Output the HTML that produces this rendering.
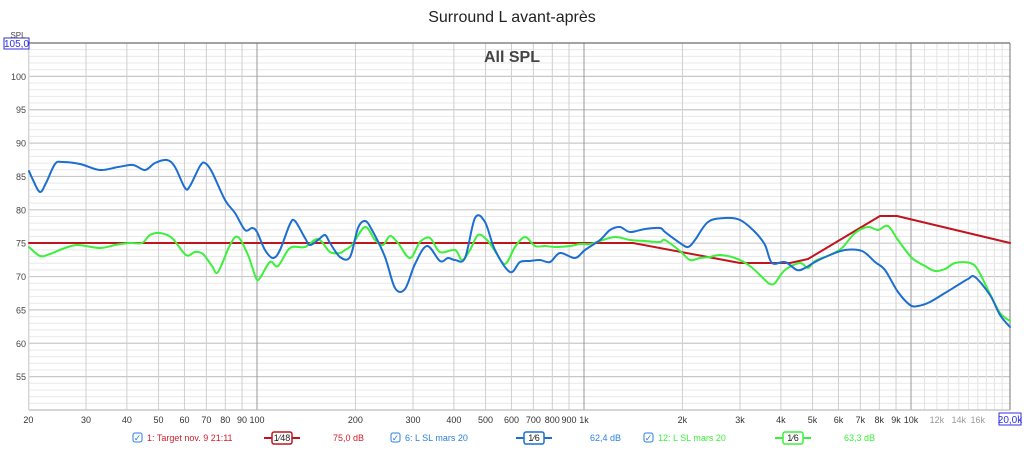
<!DOCTYPE html>
<html><head><meta charset="utf-8"><style>
body{margin:0;background:#fff;font-family:"Liberation Sans",sans-serif}
</style></head><body>
<svg width="1024" height="447" xmlns="http://www.w3.org/2000/svg" font-family="Liberation Sans, sans-serif">
<rect width="1024" height="447" fill="#fff"/>
<text x="512" y="22" font-size="16" text-anchor="middle" fill="#222">Surround L avant-après</text>
<g id="grid"></g>
<text x="512" y="62" font-size="16" font-weight="bold" text-anchor="middle" fill="#444">All SPL</text>
<g fill="none" stroke-width="2" stroke-linejoin="round" stroke-linecap="round">
<polyline stroke="#c0151f" points="29,243 633,243 740,263 790,263 808,259 880,216 897,216 1010,243"/>
<path class="sm" stroke="#3cf03c" data-p="29,247 40,256 50,254 65,248 78,245 100,248 115,245 130,243 142,243 150,235 160,233 172,238 186,255 195,252 203,254 212,266 218,272 230,245 238,237 248,255 256,278 260,278 270,262 278,266 290,248 305,247 318,239 330,252 340,253 345,250 352,245 365,227 375,240 383,245 390,236 398,243 410,258 420,242 430,238 440,252 455,250 462,260 470,250 478,235 487,240 495,251 505,264 515,247 525,237 535,246 545,246 555,247 570,246 580,244 590,244 600,241 615,237 630,240 645,241 660,242 665,240 680,251 690,260 700,258 710,257 720,255 735,258 750,266 765,280 770,284 775,283 785,270 800,263 808,268 815,261 830,255 842,248 855,233 868,227 878,230 888,226 898,240 912,258 925,266 935,271 945,269 955,263 970,263 978,270 990,294 1000,313 1010,321"/>
<path class="sm" stroke="#1c6fd0" data-p="29,171 33,180 40,192 46,183 55,164 62,162 80,164 100,170 118,167 133,165 145,170 155,163 167,160 175,167 185,188 190,186 200,166 205,163 212,172 225,200 235,213 245,230 252,228 257,232 265,250 273,258 280,250 290,224 295,221 305,238 310,245 318,240 325,235 330,243 340,257 350,257 358,228 365,221 372,230 385,257 395,288 405,289 415,264 427,246 440,261 448,258 455,260 465,258 475,218 485,222 495,250 510,272 520,262 530,261 540,260 550,262 560,253 575,258 585,250 600,240 610,230 620,227 630,232 645,229 660,228 665,232 680,243 688,247 695,240 708,222 725,218 740,220 755,232 765,245 772,263 785,262 797,270 805,268 815,262 830,255 845,250 862,251 875,262 885,270 898,292 910,305 918,306 930,302 945,293 958,285 968,279 975,277 990,295 1000,315 1010,327"/>
</g>
<rect x="4" y="38" width="25" height="11" fill="#fff" stroke="#3030e0"/>
<text x="16.5" y="47" font-size="10" text-anchor="middle" fill="#3030e0">105,0</text>
<text x="18" y="38" font-size="8" text-anchor="middle" fill="#444">SPL</text>
<rect x="999" y="413" width="22" height="12" fill="#fff" stroke="#3030e0"/>
<text x="1010" y="423" font-size="10" text-anchor="middle" fill="#3030e0">20,0k</text>
<g font-size="9">
<rect x="133" y="433" width="9" height="9" rx="2" fill="#fff" stroke="#2a7fe0"/><text x="137.5" y="441" text-anchor="middle" fill="#2a7fe0">✓</text>
<text x="147" y="441" fill="#d02030">1: Target nov. 9 21:11</text>
<line x1="264" y1="438" x2="300" y2="438" stroke="#c0151f" stroke-width="2"/><rect x="272" y="432" width="20" height="12" rx="2" fill="#fff" stroke="#c0151f" stroke-width="1.5"/><text x="282" y="441" text-anchor="middle" fill="#222">1⁄48</text>
<text x="333" y="441" fill="#d02030">75,0 dB</text>
<rect x="391" y="433" width="9" height="9" rx="2" fill="#fff" stroke="#2a7fe0"/><text x="395.5" y="441" text-anchor="middle" fill="#2a7fe0">✓</text>
<text x="405" y="441" fill="#2a7fe0">6: L SL mars 20</text>
<line x1="516" y1="438" x2="552" y2="438" stroke="#1c6fd0" stroke-width="2"/><rect x="524" y="432" width="20" height="12" rx="2" fill="#fff" stroke="#1c6fd0" stroke-width="1.5"/><text x="534" y="441" text-anchor="middle" fill="#222">1⁄6</text>
<text x="590" y="441" fill="#2a7fe0">62,4 dB</text>
<rect x="644" y="433" width="9" height="9" rx="2" fill="#fff" stroke="#2a7fe0"/><text x="648.5" y="441" text-anchor="middle" fill="#2a7fe0">✓</text>
<text x="658" y="441" fill="#3cf03c">12: L SL mars 20</text>
<line x1="775" y1="438" x2="811" y2="438" stroke="#3cf03c" stroke-width="2"/><rect x="783" y="432" width="20" height="12" rx="2" fill="#fff" stroke="#3cf03c" stroke-width="1.5"/><text x="793" y="441" text-anchor="middle" fill="#222">1⁄6</text>
<text x="844" y="441" fill="#3cf03c">63,3 dB</text>
</g>
</svg>
<script>
(function(){
var g=document.getElementById('grid'),s='';
function X(f){return 257+327*Math.log10(f/100);}
for(var d=50;d<=105;d++){var y=43+(105-d)*6.6727;var maj=d%5==0;
s+='<line x1="29" x2="1010" y1="'+y+'" y2="'+y+'" stroke="'+(maj?'#c8c8c8':'#e8e8e8')+'" stroke-width="'+(maj?1.2:1)+'"/>';
if(maj&&d<105&&d>50)s+='<text x="26" y="'+(y+3.5)+'" font-size="9" text-anchor="end" fill="#444">'+d+'</text>';}
var fs=[20,30,40,50,60,70,80,90,100,200,300,400,500,600,700,800,900,1000,2000,3000,4000,5000,6000,7000,8000,9000,10000];
var lab=['20','30','40','50','60','70','80','90','100','200','300','400','500','600','700','800','900','1k','2k','3k','4k','5k','6k','7k','8k','9k','10k'];
fs.forEach(function(f,i){var x=X(f);var dec=(f==100||f==1000||f==10000);
s+='<line x1="'+x+'" x2="'+x+'" y1="43" y2="410" stroke="'+(dec?'#999':'#cfcfcf')+'" stroke-width="1"/>';
s+='<text x="'+x+'" y="423" font-size="9" text-anchor="middle" fill="#333">'+lab[i]+'</text>';});
for(var f=11000;f<20000;f+=1000){var x=X(f);s+='<line x1="'+x+'" x2="'+x+'" y1="43" y2="410" stroke="#e4e4e4"/>';}
[[12000,'12k'],[14000,'14k'],[16000,'16k']].forEach(function(a){s+='<text x="'+X(a[0])+'" y="423" font-size="9" text-anchor="middle" fill="#999">'+a[1]+'</text>';});
s+='<line x1="29" x2="1010" y1="43" y2="43" stroke="#555"/><line x1="29" x2="1010" y1="410" y2="410" stroke="#bbb"/><line x1="29" x2="29" y1="43" y2="410" stroke="#ddd"/><line x1="1010" x2="1010" y1="43" y2="410" stroke="#777"/>';
g.innerHTML=s;
document.querySelectorAll('path.sm').forEach(function(p){
var pts=p.getAttribute('data-p').split(' ').map(function(t){return t.split(',').map(Number);});
var d='M'+pts[0][0]+','+pts[0][1];
for(var i=0;i<pts.length-1;i++){var p0=pts[Math.max(0,i-1)],p1=pts[i],p2=pts[i+1],p3=pts[Math.min(pts.length-1,i+2)];
var c1x=p1[0]+(p2[0]-p0[0])/6,c1y=p1[1]+(p2[1]-p0[1])/6,c2x=p2[0]-(p3[0]-p1[0])/6,c2y=p2[1]-(p3[1]-p1[1])/6;
d+=' C'+c1x.toFixed(1)+','+c1y.toFixed(1)+' '+c2x.toFixed(1)+','+c2y.toFixed(1)+' '+p2[0]+','+p2[1];}
p.setAttribute('d',d);});
})();
</script>
</body></html>
